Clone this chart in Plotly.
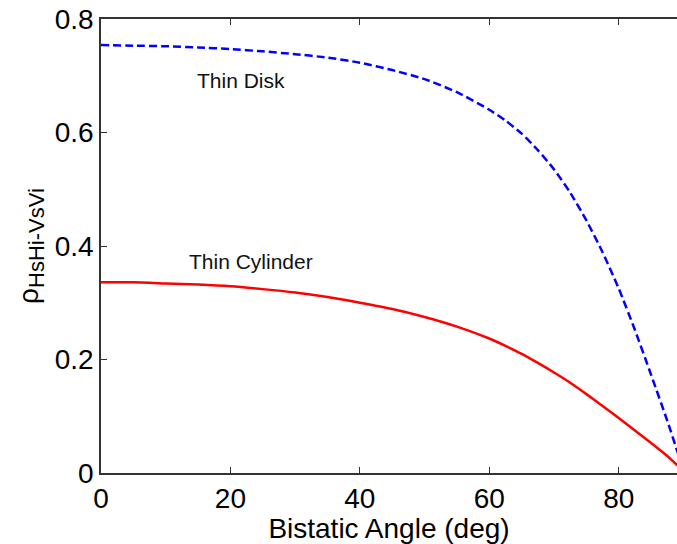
import plotly.graph_objects as go

# Bistatic angle (deg)
angle = [0, 5, 10, 15, 20, 25, 30, 35, 40, 45, 50, 55, 60, 62.5, 65, 67.5, 70, 72.5,
         75, 77.5, 80, 82.5, 85, 87.5, 89, 90]
# Thin disk correlation (blue dashed)
disk = [0.754, 0.753, 0.752, 0.750, 0.747, 0.743, 0.738, 0.732, 0.723, 0.710, 0.694,
        0.671, 0.640, 0.621, 0.598, 0.569, 0.535, 0.494, 0.445, 0.389, 0.325, 0.252,
        0.173, 0.092, 0.040, 0.005]
# Thin cylinder correlation (red solid)
cyl = [0.336, 0.336, 0.334, 0.332, 0.329, 0.324, 0.318, 0.310, 0.300, 0.289, 0.275,
       0.258, 0.237, 0.224, 0.210, 0.194, 0.177, 0.159, 0.139, 0.118, 0.097, 0.075,
       0.053, 0.030, 0.014, 0.004]

xticks = [0, 20, 40, 60, 80]
yticks = [0, 0.2, 0.4, 0.6, 0.8]
ytext = ["0", "0.2", "0.4", "0.6", "0.8"]

FONT = "Liberation Sans, Arial, sans-serif"

fig = go.Figure()
fig.add_trace(go.Scatter(x=angle, y=disk, mode="lines",
                         line=dict(color="#0000FF", width=2.5, dash="8px,4px",
                                   shape="spline", smoothing=0.6),
                         showlegend=False))
fig.add_trace(go.Scatter(x=angle, y=cyl, mode="lines",
                         line=dict(color="#FF0000", width=2.5,
                                   shape="spline", smoothing=0.6),
                         showlegend=False))

fig.add_annotation(x=21.6, y=0.691, text="Thin Disk", showarrow=False,
                   font=dict(family=FONT, size=21, color="#111111"),
                   xanchor="center", yanchor="middle")
fig.add_annotation(x=23.2, y=0.372, text="Thin Cylinder", showarrow=False,
                   font=dict(family=FONT, size=21, color="#111111"),
                   xanchor="center", yanchor="middle")

fig.update_layout(
    width=677, height=544,
    margin=dict(l=101, r=0, t=19, b=71),
    paper_bgcolor="white", plot_bgcolor="white",
    font=dict(family=FONT, size=28, color="black"),
    xaxis=dict(range=[0, 89], tickvals=xticks, ticks="inside", ticklen=6,
               tickcolor="#333333", tickwidth=1.2,
               showline=True, linecolor="#333333", linewidth=1.5, mirror="ticks",
               showgrid=False, zeroline=False,
               tickfont=dict(size=28),
               title=dict(text="Bistatic Angle (deg)", font=dict(size=28), standoff=2)),
    yaxis=dict(range=[0, 0.8], tickvals=yticks, ticktext=ytext, ticks="inside", ticklen=6,
               tickcolor="#333333", tickwidth=1.2,
               showline=True, linecolor="#333333", linewidth=1.5,
               showgrid=False, zeroline=False,
               tickfont=dict(size=28),
               title=dict(text="ρ<sub><span style='font-size:22px'>HsHi-VsVi</span></sub>",
                          font=dict(size=28), standoff=8)),
)

fig.write_html("out.html")
